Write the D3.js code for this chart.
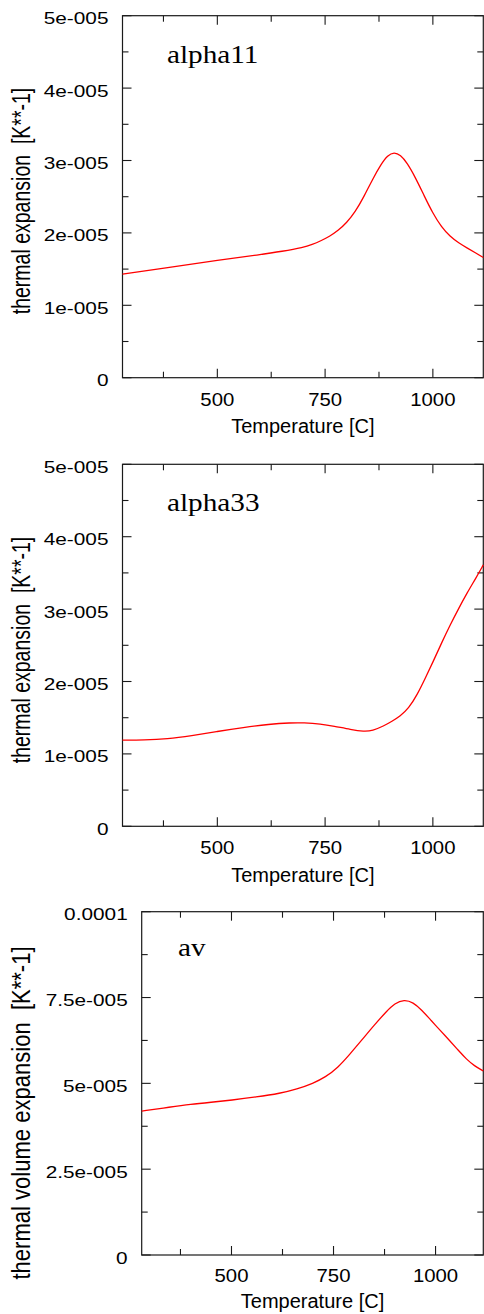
<!DOCTYPE html>
<html>
<head>
<meta charset="utf-8">
<script src="https://cdn.jsdelivr.net/npm/d3@7"></script>
<style>
  html, body { margin: 0; padding: 0; background: #fff; }
  svg { display: block; }
</style>
</head>
<body>
<svg id="chart" width="484" height="1314"></svg>
<script>
// Temperature range shared by all three panels [C]
const tempDomain = [280, 1117];
const xTickValues = [500, 750, 1000];
const xMinorTicks = [375, 625, 875];

// alpha11 : thermal expansion along a-axis [1/K]
const alpha11Temp = [280, 400, 500, 600, 650, 700, 720, 740, 760, 780, 800, 820, 840, 860, 880, 895, 910, 925, 940, 960, 980, 1000, 1020, 1040, 1060, 1080, 1100, 1117];
const alpha11Value = [1.43e-5, 1.535e-5, 1.62e-5, 1.70e-5, 1.745e-5, 1.80e-5, 1.84e-5, 1.89e-5, 1.95e-5, 2.03e-5, 2.14e-5, 2.29e-5, 2.50e-5, 2.74e-5, 2.95e-5, 3.07e-5, 3.115e-5, 3.075e-5, 2.97e-5, 2.76e-5, 2.51e-5, 2.27e-5, 2.08e-5, 1.95e-5, 1.86e-5, 1.79e-5, 1.72e-5, 1.66e-5];

// alpha33 : thermal expansion along c-axis [1/K]
const alpha33Temp = [280, 330, 384, 440, 500, 560, 620, 670, 700, 740, 770, 810, 840, 860, 886, 905, 924, 944, 963, 982, 1001, 1020, 1040, 1060, 1079, 1100, 1117];
const alpha33Value = [1.19e-5, 1.19e-5, 1.205e-5, 1.25e-5, 1.31e-5, 1.365e-5, 1.41e-5, 1.43e-5, 1.43e-5, 1.415e-5, 1.385e-5, 1.335e-5, 1.31e-5, 1.32e-5, 1.385e-5, 1.45e-5, 1.52e-5, 1.63e-5, 1.81e-5, 2.04e-5, 2.28e-5, 2.53e-5, 2.78e-5, 3.01e-5, 3.22e-5, 3.43e-5, 3.61e-5];

// av : thermal volume expansion [1/K]
const avTemp = [280, 350, 400, 450, 500, 560, 620, 660, 700, 730, 760, 790, 820, 850, 880, 900, 923, 945, 966, 990, 1010, 1035, 1055, 1076, 1095, 1117];
const avValue = [4.19e-5, 4.31e-5, 4.39e-5, 4.45e-5, 4.51e-5, 4.60e-5, 4.71e-5, 4.83e-5, 5.00e-5, 5.18e-5, 5.45e-5, 5.85e-5, 6.27e-5, 6.70e-5, 7.10e-5, 7.33e-5, 7.44e-5, 7.36e-5, 7.14e-5, 6.82e-5, 6.56e-5, 6.24e-5, 5.97e-5, 5.70e-5, 5.51e-5, 5.36e-5];

// y-axis ticks and labels
const yTicksAlpha = [0, 1e-5, 2e-5, 3e-5, 4e-5, 5e-5];
const yLabelsAlpha = ["0", "1e-005", "2e-005", "3e-005", "4e-005", "5e-005"];
const yMinorAlpha = [0.5e-5, 1.5e-5, 2.5e-5, 3.5e-5, 4.5e-5];
const yTicksAv = [0, 2.5e-5, 5e-5, 7.5e-5, 1e-4];
const yLabelsAv = ["0", "2.5e-005", "5e-005", "7.5e-005", "0.0001"];
const yMinorAv = [1.25e-5, 3.75e-5, 6.25e-5, 8.75e-5];

const panels = [
  { name: "alpha11", temp: alpha11Temp, value: alpha11Value, yMax: 5e-5,
    ticks: yTicksAlpha, labels: yLabelsAlpha, minor: yMinorAlpha,
    left: 122.5, right: 483.3, top: 15.7, bottom: 377.7, xTickDy: 28, xTitleDy: 55.3,
    ytitle: "thermal expansion  [K**-1]", ytitleStretch: 1, ytitleCenter: 201, titleX: 167, titleY: 63 },
  { name: "alpha33", temp: alpha33Temp, value: alpha33Value, yMax: 5e-5,
    ticks: yTicksAlpha, labels: yLabelsAlpha, minor: yMinorAlpha,
    left: 122.5, right: 483.3, top: 464.3, bottom: 826.3, xTickDy: 28, xTitleDy: 55.3,
    ytitle: "thermal expansion  [K**-1]", ytitleStretch: 1, ytitleCenter: 650, titleX: 167, titleY: 511 },
  { name: "av", temp: avTemp, value: avValue, yMax: 1e-4,
    ticks: yTicksAv, labels: yLabelsAv, minor: yMinorAv,
    left: 141.7, right: 483.3, top: 911.7, bottom: 1255, xTickDy: 26.7, xTitleDy: 53,
    ytitle: "thermal volume expansion  [K**-1]", ytitleStretch: 1.13, ytitleCenter: 1113, titleX: 178, titleY: 956 }
];

const svg = d3.select("#chart");
const sans = "'Liberation Sans', Arial, Helvetica, sans-serif";
const serif = "'Liberation Serif', 'Times New Roman', serif";
const axisColor = "#1a1a1a";

panels.forEach(p => {
  const x = d3.scaleLinear().domain(tempDomain).range([p.left, p.right]);
  const y = d3.scaleLinear().domain([0, p.yMax]).range([p.bottom, p.top]);
  const g = svg.append("g").attr("class", "panel-" + p.name);

  // frame
  g.append("rect")
    .attr("x", p.left).attr("y", p.top)
    .attr("width", p.right - p.left).attr("height", p.bottom - p.top)
    .attr("fill", "none").attr("stroke", axisColor).attr("stroke-width", 1.2);

  // inward ticks on all four sides
  const major = 9, minor = 6;
  const tickLine = (x1, y1, x2, y2) => g.append("line")
    .attr("x1", x1).attr("y1", y1).attr("x2", x2).attr("y2", y2)
    .attr("stroke", axisColor).attr("stroke-width", 1.1);
  xTickValues.forEach(t => {
    tickLine(x(t), p.bottom, x(t), p.bottom - major);
    tickLine(x(t), p.top, x(t), p.top + major);
  });
  xMinorTicks.forEach(t => {
    tickLine(x(t), p.bottom, x(t), p.bottom - minor);
    tickLine(x(t), p.top, x(t), p.top + minor);
  });
  p.ticks.forEach(v => {
    tickLine(p.left, y(v), p.left + major, y(v));
    tickLine(p.right, y(v), p.right - major, y(v));
  });
  p.minor.forEach(v => {
    tickLine(p.left, y(v), p.left + minor, y(v));
    tickLine(p.right, y(v), p.right - minor, y(v));
  });

  // y tick labels
  p.ticks.forEach((v, i) => {
    g.append("text")
      .attr("transform", `translate(${p.left - 14},${y(v) + 8.5}) scale(1.3,1)`)
      .attr("text-anchor", "end")
      .attr("font-family", sans).attr("font-size", 16).attr("fill", "#000")
      .text(p.labels[i]);
  });

  // x tick labels
  xTickValues.forEach(t => {
    g.append("text")
      .attr("transform", `translate(${x(t)},${p.bottom + p.xTickDy}) scale(1.1,1)`)
      .attr("text-anchor", "middle")
      .attr("font-family", sans).attr("font-size", 18.5).attr("fill", "#000")
      .text(t);
  });

  // x title
  g.append("text")
    .attr("x", (p.left + p.right) / 2).attr("y", p.bottom + p.xTitleDy)
    .attr("text-anchor", "middle")
    .attr("font-family", sans).attr("font-size", 20).attr("fill", "#000")
    .text("Temperature [C]");

  // y title
  g.append("text")
    .attr("transform", `translate(30,${p.ytitleCenter}) rotate(-90) scale(${p.ytitleStretch},1.3)`)
    .attr("text-anchor", "middle")
    .attr("font-family", sans).attr("font-size", 19.5).attr("fill", "#000")
    .style("white-space", "pre")
    .text(p.ytitle);

  // series key inside the plot
  g.append("text")
    .attr("transform", `translate(${p.titleX},${p.titleY}) scale(1.17,1)`)
    .attr("font-family", serif).attr("font-size", 25).attr("fill", "#000")
    .text(p.name);

  // curve (B-spline through the sampled points)
  const pts = p.temp.map((t, i) => [t, p.value[i]]);
  g.append("path")
    .datum(pts)
    .attr("fill", "none")
    .attr("stroke", "#ff0000")
    .attr("stroke-width", 1.3)
    .attr("d", d3.line().x(d => x(d[0])).y(d => y(d[1])).curve(d3.curveBasis));
});
</script>
</body>
</html>
